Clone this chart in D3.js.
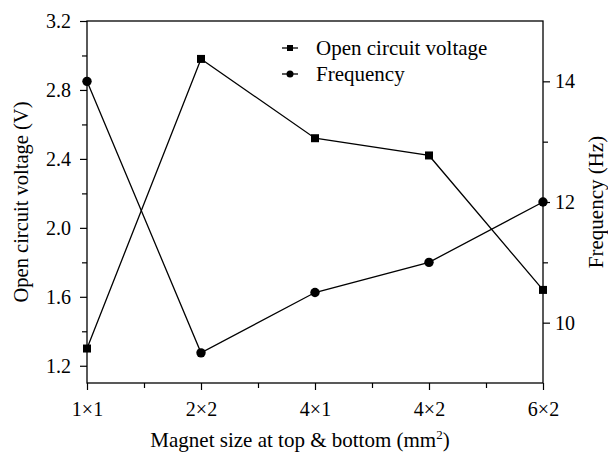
<!DOCTYPE html>
<html>
<head>
<meta charset="utf-8">
<script src="https://cdn.jsdelivr.net/npm/d3@7"></script>
<style>
  body { margin: 0; background: #fff; }
  text { font-family: "Liberation Serif", "Times New Roman", serif; fill: #000; }
</style>
</head>
<body>
<svg width="608" height="452"></svg>
<script>
const categories = ["1\u00d71", "2\u00d72", "4\u00d71", "4\u00d72", "6\u00d72"];
const voltage = [1.30, 2.98, 2.52, 2.42, 1.64];
const frequency = [14.0, 9.5, 10.5, 11.0, 12.0];
const voltTicks = [1.2, 1.6, 2.0, 2.4, 2.8, 3.2];
const voltMinor = [1.4, 1.8, 2.2, 2.6, 3.0];
const freqTicks = [10, 12, 14];
const freqMinor = [11, 13];

const svg = d3.select("svg");
const mLeft = 87, mRight = 543, mTop = 21, mBottom = 383;

const x = d3.scaleLinear().domain([0, categories.length - 1]).range([mLeft, mRight]);
const yV = d3.scaleLinear().domain([1.1, 3.2]).range([mBottom, mTop]);
const yF = d3.scaleLinear().domain([9, 15]).range([mBottom, mTop]);

// frame
svg.append("rect")
  .attr("x", mLeft).attr("y", mTop)
  .attr("width", mRight - mLeft).attr("height", mBottom - mTop)
  .attr("fill", "none").attr("stroke", "#000").attr("stroke-width", 1.3);

// left axis
svg.append("g").attr("transform", `translate(${mLeft},0)`)
  .call(d3.axisLeft(yV).tickValues(voltTicks).tickFormat(d3.format(".1f")).tickSize(7).tickPadding(9));
svg.append("g").attr("transform", `translate(${mLeft},0)`)
  .call(d3.axisLeft(yV).tickValues(voltMinor).tickFormat("").tickSize(5));

// right axis
svg.append("g").attr("transform", `translate(${mRight},0)`)
  .call(d3.axisRight(yF).tickValues(freqTicks).tickFormat(d3.format("d")).tickSize(7).tickPadding(5));
svg.append("g").attr("transform", `translate(${mRight},0)`)
  .call(d3.axisRight(yF).tickValues(freqMinor).tickFormat("").tickSize(5));

// bottom axis
svg.append("g").attr("transform", `translate(0,${mBottom})`)
  .call(d3.axisBottom(x).tickValues(d3.range(categories.length)).tickFormat(i => categories[i]).tickSize(7).tickPadding(12));
svg.append("g").attr("transform", `translate(0,${mBottom})`)
  .call(d3.axisBottom(x).tickValues([0.5, 1.5, 2.5, 3.5]).tickFormat("").tickSize(5));

svg.selectAll(".domain").remove();
svg.selectAll(".tick line").attr("stroke", "#000").attr("stroke-width", 1.2);
svg.selectAll(".tick text").style("font-size", "20px").style("font-family", "'Liberation Serif', serif");

// axis titles
svg.append("text")
  .attr("transform", `translate(21,${(mTop + mBottom) / 2}) rotate(-90)`)
  .attr("dy", "0.35em")
  .attr("text-anchor", "middle").style("font-size", "20.5px")
  .text("Open circuit voltage (V)");

svg.append("text")
  .attr("transform", `translate(596,${(mTop + mBottom) / 2}) rotate(-90)`)
  .attr("dy", "0.35em")
  .attr("text-anchor", "middle").style("font-size", "21px")
  .text("Frequency (Hz)");

const xt = svg.append("text")
  .attr("x", (mLeft + mRight) / 2 - 15).attr("y", 447)
  .attr("text-anchor", "middle").style("font-size", "21px");
xt.append("tspan").text("Magnet size at top & bottom (mm");
xt.append("tspan").attr("dy", -8).style("font-size", "13px").text("2");
xt.append("tspan").attr("dy", 8).text(")");

// lines
const lineV = d3.line().x((d, i) => x(i)).y(d => yV(d));
const lineF = d3.line().x((d, i) => x(i)).y(d => yF(d));

svg.append("path").datum(voltage).attr("d", lineV)
  .attr("fill", "none").attr("stroke", "#000").attr("stroke-width", 1.3);
svg.append("path").datum(frequency).attr("d", lineF)
  .attr("fill", "none").attr("stroke", "#000").attr("stroke-width", 1.3);

svg.selectAll(".sq").data(voltage).join("rect")
  .attr("x", (d, i) => x(i) - 4).attr("y", d => yV(d) - 4)
  .attr("width", 8).attr("height", 8).attr("fill", "#000");

svg.selectAll(".ci").data(frequency).join("circle")
  .attr("cx", (d, i) => x(i)).attr("cy", d => yF(d))
  .attr("r", 4.7).attr("fill", "#000");

// legend
const legend = [
  { label: "Open circuit voltage", shape: "square", y: 48 },
  { label: "Frequency", shape: "circle", y: 74 }
];
const lg = svg.append("g");
legend.forEach(l => {
  lg.append("line").attr("x1", 282).attr("x2", 298).attr("y1", l.y).attr("y2", l.y)
    .attr("stroke", "#000").attr("stroke-width", 1.3);
  if (l.shape === "square") {
    lg.append("rect").attr("x", 287).attr("y", l.y - 3).attr("width", 6).attr("height", 6).attr("fill", "#000");
  } else {
    lg.append("circle").attr("cx", 290).attr("cy", l.y).attr("r", 3.5).attr("fill", "#000");
  }
  lg.append("text").attr("x", 316).attr("y", l.y + 7).style("font-size", "21px").text(l.label);
});
</script>
</body>
</html>
